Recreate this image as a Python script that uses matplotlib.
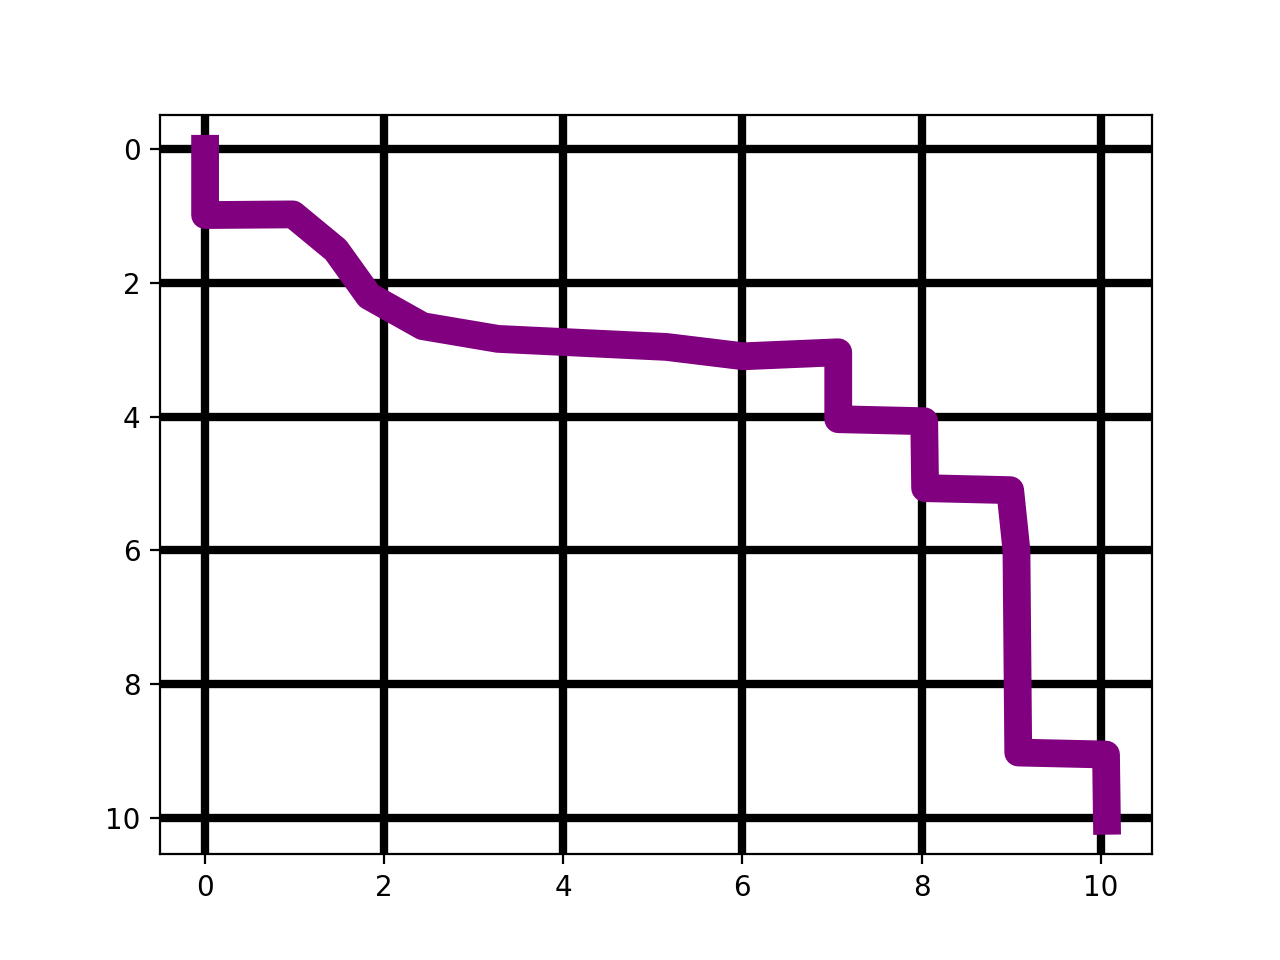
import matplotlib
matplotlib.use("Agg")
import matplotlib.pyplot as plt

xs = [0.0, 0.0, 0.98, 1.46, 1.83, 2.43, 3.27, 5.15, 6.01, 7.07, 7.07, 8.03, 8.04, 8.99, 9.06, 9.08, 10.06, 10.07]
ys = [0.0, 0.99, 0.98, 1.51, 2.2, 2.65, 2.84, 2.96, 3.10, 3.04, 4.04, 4.07, 5.07, 5.10, 6.0, 9.02, 9.05, 10.04]

fig, ax = plt.subplots(figsize=(6.4, 4.8), dpi=200)
ax.plot(xs, ys, color='purple', linewidth=10)
ax.invert_yaxis()
ax.grid(True, color='black', linewidth=3)
fig.savefig("out.png")
